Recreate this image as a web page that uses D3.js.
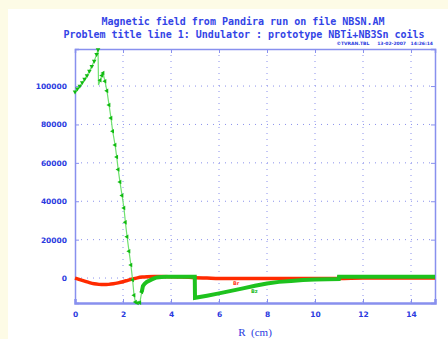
<!DOCTYPE html>
<html>
<head>
<meta charset="utf-8">
<script src="https://cdn.jsdelivr.net/npm/d3@7"></script>
<style>
  body { margin: 0; background: #fdfbe6; }
  svg { display: block; }
  .title { font-family: "DejaVu Sans Mono", monospace; font-weight: bold; font-size: 10px; fill: #3344e6; }
  .tick text { font-family: "DejaVu Sans", sans-serif; font-weight: bold; font-size: 7.5px; fill: #2a3ae0; }
</style>
</head>
<body>
<div id="chart"></div>
<script>
// tick values
const xTicks = [0, 2, 4, 6, 8, 10, 12, 14];
const yTicks = [0, 20000, 40000, 60000, 80000, 100000];

// Bz (green)
const bzR = [0, 0.1, 0.2, 0.3, 0.4, 0.5, 0.6, 0.7, 0.8, 0.9, 0.96, 0.98, 1.05, 1.12, 1.17, 1.25, 1.33,
  1.42, 1.5, 1.57, 1.67, 1.74, 1.8, 1.875, 1.96, 2.04, 2.1, 2.17, 2.25, 2.33, 2.4, 2.46, 2.52, 2.6, 2.7,
  2.78, 2.83, 2.9, 2.99, 3.2, 3.4, 3.6, 3.8, 4.0, 4.5, 4.99, 5.0, 5.5, 6.0, 6.5, 7.0, 7.5, 8.0, 8.5, 9.0,
  9.5, 10.0, 10.5, 10.99, 11.0, 12, 13, 14, 15];
const bzVal = [97000, 98500, 100000, 101800, 103600, 105500, 107800, 110300, 113000, 116500, 119000, 100500,
  103000, 105500, 106800, 102500, 97500, 90100, 83300, 76500, 69300, 63000, 56500, 50000, 43000, 36500,
  29000, 21500, 14000, 6800, -1000, -9000, -12500, -13000, -12800, -7300, -4200, -3000, -2000, -700, 300,
  600, 700, 700, 700, 700, -10300, -9200, -8000, -6700, -5400, -4000, -2800, -2000, -1500, -1000, -800,
  -600, -500, 700, 700, 700, 700, 700];

// Br (red)
const brR = [0, 0.2, 0.4, 0.6, 0.8, 1.0, 1.2, 1.4, 1.6, 1.8, 2.0, 2.2, 2.4, 2.6, 2.8, 3.0, 3.3, 3.6, 4.0,
  4.5, 5.0, 5.5, 6, 8, 10, 11, 12, 13, 14, 15];
const brVal = [0, -800, -1600, -2400, -3000, -3300, -3400, -3300, -3000, -2500, -1900, -1200, -500, 100,
  500, 700, 800, 800, 700, 500, 200, 0, -200, -200, -200, -200, 0, 0, 0, 0];

const W = 448, H = 339;
const svg = d3.select('#chart').append('svg').attr('width', W).attr('height', H);

// white panel on the yellow page
svg.append('rect').attr('x', 8).attr('y', 9).attr('width', W - 8).attr('height', H - 9).attr('fill', '#fff');

const x = d3.scaleLinear().domain([0, 15]).range([75, 435]);
const y = d3.scaleLinear().domain([-13000, 119300]).range([303, 49]);

svg.append('text').attr('class', 'title').attr('x', 243).attr('y', 25).attr('text-anchor', 'middle')
  .text('Magnetic field from Pandira run on file NBSN.AM');
svg.append('text').attr('class', 'title').attr('x', 244).attr('y', 38).attr('text-anchor', 'middle')
  .text('Problem title line 1: Undulator : prototype NBTi+NB3Sn coils');
svg.append('text').attr('x', 433).attr('y', 45).attr('text-anchor', 'end')
  .attr('font-family', 'DejaVu Sans, sans-serif').attr('font-size', 4.5).attr('font-weight', 'bold')
  .attr('fill', '#2a3ae0').attr('xml:space', 'preserve')
  .text('©TVRAN.TBL     13-02-2007   14:26:14');

// dotted grid
const grid = svg.append('g').attr('stroke', '#8a90ec').attr('stroke-width', 1).attr('stroke-dasharray', '1,5');
grid.selectAll('.gx').data(xTicks.filter(d => d > 0)).enter().append('line')
  .attr('x1', d => x(d)).attr('x2', d => x(d)).attr('y1', 49).attr('y2', 303);
grid.selectAll('.gy').data(yTicks).enter().append('line')
  .attr('x1', 75).attr('x2', 435).attr('y1', d => y(d)).attr('y2', d => y(d));

// axes
const axCol = '#8890ee';
const xAxis = svg.append('g').attr('transform', 'translate(0,303)')
  .call(d3.axisBottom(x).tickValues(xTicks).tickSize(-4).tickPadding(9).tickFormat(d3.format('d')));
const yAxis = svg.append('g').attr('transform', 'translate(75,0)')
  .call(d3.axisLeft(y).tickValues(yTicks).tickSize(-4).tickPadding(8).tickFormat(d3.format('d')));
svg.append('g').attr('transform', 'translate(0,49)')
  .call(d3.axisTop(x).tickValues(xTicks).tickSize(-4).tickFormat(''));
svg.append('g').attr('transform', 'translate(435,0)')
  .call(d3.axisRight(y).tickValues(yTicks).tickSize(-4).tickFormat(''));
svg.selectAll('.domain').attr('stroke', axCol).attr('stroke-width', 1.5);
svg.selectAll('.tick line').attr('stroke', axCol);
xAxis.select('.domain').attr('stroke-width', 2.5);
xAxis.selectAll('.tick text').attr('font-size', 8.5);

svg.append('text').attr('x', 255).attr('y', 336).attr('text-anchor', 'middle')
  .attr('font-family', 'Liberation Serif, serif').attr('font-size', 11).attr('fill', '#2a3ae0')
  .attr('xml:space', 'preserve').text('R  (cm)');

const line = d3.line().x(d => x(d[0])).y(d => y(d[1]));
const bz = bzR.map((r, i) => [r, bzVal[i]]);
const br = brR.map((r, i) => [r, brVal[i]]);

// Br
svg.append('path').datum(br).attr('d', line.curve(d3.curveMonotoneX))
  .attr('fill', 'none').attr('stroke', '#ff2a00').attr('stroke-width', 3.5);

// Bz: thin line, dense band past the dip, arrow markers on the sparse part
const lineL = d3.line().x(d => x(d[0])).y(d => y(d[1]));
svg.append('path').datum(bz).attr('d', lineL)
  .attr('fill', 'none').attr('stroke', '#6ee06e').attr('stroke-width', 1.2);
svg.append('path').datum(bz.filter(d => d[0] >= 2.78)).attr('d', lineL)
  .attr('fill', 'none').attr('stroke', '#1ec21e').attr('stroke-width', 4);
svg.selectAll('.mk').data(bz.filter(d => d[0] < 2.8 && d[0] !== 0.98)).enter().append('path')
  .attr('d', d3.symbol().type(d3.symbolTriangle).size(9))
  .attr('transform', d => `translate(${x(d[0])},${y(d[1])}) rotate(${d[0] < 1 ? 60 : 150})`)
  .attr('fill', '#11bb11');

// curve labels
svg.append('text').attr('x', 233).attr('y', 285).attr('font-family', 'DejaVu Sans, sans-serif')
  .attr('font-size', 5).attr('font-weight', 'bold').attr('fill', '#ff3a20').text('Br');
svg.append('text').attr('x', 251).attr('y', 293).attr('font-family', 'DejaVu Sans, sans-serif')
  .attr('font-size', 5).attr('font-weight', 'bold').attr('fill', '#22bb22').text('Bz');
</script>
</body>
</html>
